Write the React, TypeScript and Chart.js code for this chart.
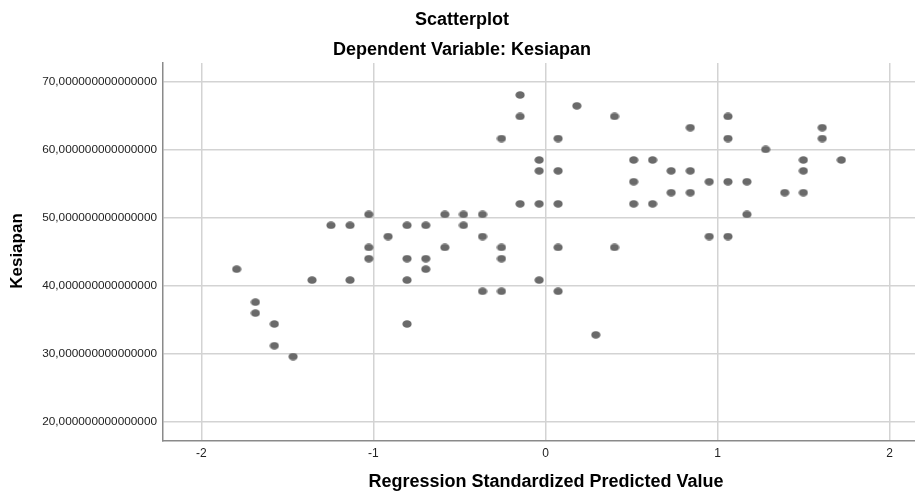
import React, { useEffect, useRef } from 'react';
import Chart from 'chart.js/auto';

const chartTitle = 'Scatterplot';
const chartSubtitle = 'Dependent Variable: Kesiapan';
const xAxisTitle = 'Regression Standardized Predicted Value';
const yAxisTitle = 'Kesiapan';

const xTickValues = [-2, -1, 0, 1, 2];
const yTickValues = [20, 30, 40, 50, 60, 70];

const predictedValues = [
  -1.027, -1.247, -1.136, -0.805, -0.915, -1.027, -1.027, -0.805, -1.795, -1.357,
  -1.136, -0.805, -1.686, -1.686, -1.576, -0.805, -1.576, -1.467,
  -0.148, 0.182, -0.148, 0.401, -0.256, 0.073, -0.037, 0.512, -0.037, 0.073,
  0.512, -0.148, -0.037, 0.073, 0.512, -0.585, -0.477, -0.366, -0.696, -0.477,
  -0.366, -0.585, -0.256, 0.073, 0.401, -0.696, -0.256, -0.696, -0.037, -0.366,
  -0.256, 0.073, 0.292,
  0.841, 1.06, 1.06, 1.608, 1.608, 1.279, 0.622, 1.498, 1.719, 0.73,
  0.841, 1.498, 0.951, 1.06, 1.17, 0.73, 0.841, 1.39, 1.498, 0.622,
  1.17, 0.951, 1.06,
];

const kesiapanValues = [
  50.5, 48.9, 48.9, 48.9, 47.25, 45.65, 44.0, 44.0, 42.45, 40.85,
  40.85, 40.85, 37.6, 36.0, 34.4, 34.4, 31.2, 29.6,
  68.05, 66.45, 64.9, 64.9, 61.65, 61.65, 58.5, 58.5, 56.9, 56.9,
  55.3, 52.05, 52.05, 52.05, 52.05, 50.5, 50.5, 50.5, 48.9, 48.9,
  47.25, 45.65, 45.65, 45.65, 45.65, 44.0, 44.0, 42.45, 40.85, 39.2,
  39.2, 39.2, 32.8,
  63.25, 64.9, 61.65, 63.25, 61.65, 60.05, 58.5, 58.5, 58.5, 56.9,
  56.9, 56.9, 55.3, 55.3, 55.3, 53.7, 53.7, 53.7, 53.7, 52.05,
  50.5, 47.25, 47.25,
];

const FONT = "'Liberation Sans', Arial, sans-serif";

export default function App() {
  const canvasRef = useRef<HTMLCanvasElement | null>(null);

  useEffect(() => {
    const canvas = canvasRef.current;
    if (!canvas) return;

    const dot = document.createElement('canvas');
    dot.width = 10;
    dot.height = 8;
    const dctx = dot.getContext('2d');
    if (dctx) {
      dctx.fillStyle = '#6a6a6a';
      dctx.beginPath();
      dctx.ellipse(5, 4, 4.6, 3.8, 0, 0, Math.PI * 2);
      dctx.fill();
    }

    const points = predictedValues.map((x, i) => ({ x, y: kesiapanValues[i] }));

    const titlesPlugin = {
      id: 'titles',
      afterDraw(chart: any) {
        const ctx = chart.ctx;
        ctx.save();
        ctx.fillStyle = '#000';
        ctx.textAlign = 'center';
        ctx.textBaseline = 'middle';
        ctx.font = `bold 18px ${FONT}`;
        ctx.fillText(chartTitle, 462, 20);
        ctx.fillText(chartSubtitle, 462, 50.5);
        ctx.fillText(xAxisTitle, 546, 482);
        ctx.translate(17, 251);
        ctx.rotate(-Math.PI / 2);
        ctx.font = `bold 17px ${FONT}`;
        ctx.fillText(yAxisTitle, 0, 0);
        ctx.restore();
      },
    };

    const chart = new Chart(canvas, {
      type: 'scatter',
      data: {
        datasets: [
          {
            data: points,
            pointStyle: dot as any,
            pointRadius: 4,
            pointHoverRadius: 4,
            backgroundColor: '#6a6a6a',
            borderColor: '#6a6a6a',
          },
        ],
      },
      options: {
        responsive: false,
        animation: false,
        layout: { autoPadding: false, padding: { top: 63, left: 0, right: 0, bottom: 0 } },
        plugins: {
          legend: { display: false },
          tooltip: { enabled: false },
          title: { display: false },
        },
        scales: {
          x: {
            type: 'linear',
            min: -2.223,
            max: 2.147,
            afterBuildTicks(scale: any) {
              scale.ticks = xTickValues.map((v) => ({ value: v }));
            },
            afterFit(scale: any) {
              scale.height = 53;
              scale.paddingLeft = 0;
              scale.paddingRight = 0;
            },
            ticks: {
              includeBounds: false,
              padding: 5,
              color: '#222',
              font: { family: FONT, size: 12 },
              callback: (v: any) => String(v),
            },
            grid: {
              color: '#d3d3d3',
              lineWidth: 1.5,
              drawTicks: false,
            },
            border: { display: true, color: '#8a8a8a', width: 1.5 },
          },
          y: {
            type: 'linear',
            min: 17.2,
            max: 72.75,
            afterBuildTicks(scale: any) {
              scale.ticks = yTickValues.map((v) => ({ value: v }));
            },
            afterFit(scale: any) {
              scale.width = 163;
              scale.paddingTop = 0;
              scale.paddingBottom = 0;
            },
            ticks: {
              includeBounds: false,
              padding: 6,
              color: '#222',
              font: { family: FONT, size: 11.8 },
              callback: (v: any) => Number(v).toFixed(15).replace('.', ','),
            },
            grid: {
              color: '#d3d3d3',
              lineWidth: 1.5,
              drawTicks: false,
            },
            border: { display: true, color: '#8a8a8a', width: 1.5 },
          },
        },
      },
      plugins: [titlesPlugin],
    });

    return () => chart.destroy();
  }, []);

  return (
    <div style={{ position: 'absolute', left: 0, top: 0, width: 915, height: 494, background: '#fff' }}>
      <canvas ref={canvasRef} width={915} height={494} />
    </div>
  );
}
